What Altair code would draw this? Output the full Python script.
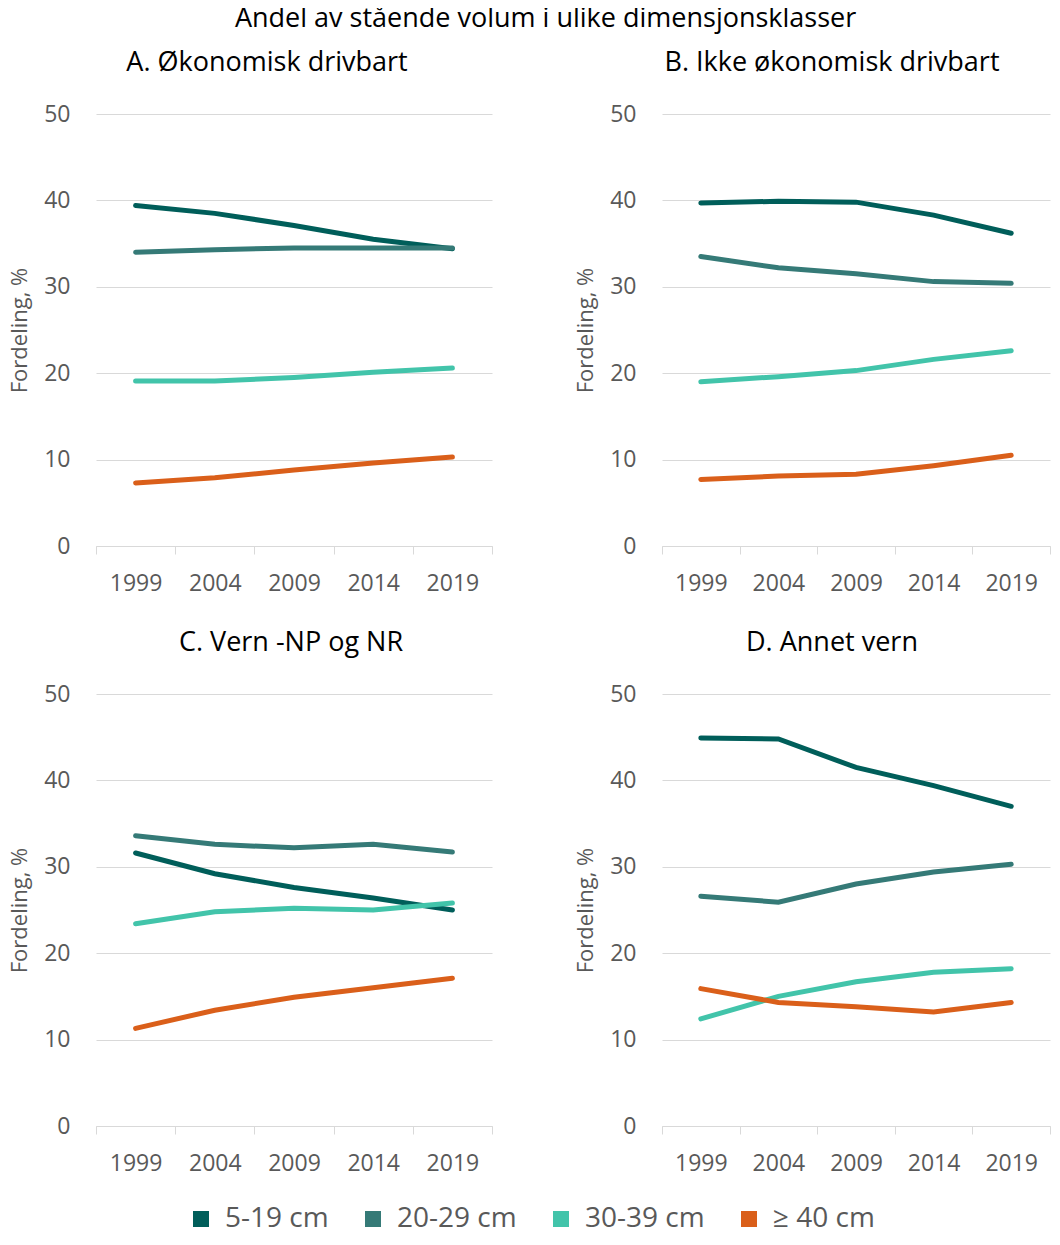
import altair as alt
import pandas as pd

years = ["1999", "2004", "2009", "2014", "2019"]
classes = ["5-19 cm", "20-29 cm", "30-39 cm", "≥ 40 cm"]
colors = ["#005E5A", "#357A77", "#42C4AA", "#DA5F1A"]
panels = ["A. Økonomisk drivbart", "B. Ikke økonomisk drivbart", "C. Vern -NP og NR", "D. Annet vern"]

A_5_19 = [39.4, 38.5, 37.1, 35.5, 34.4]
A_20_29 = [34.0, 34.3, 34.5, 34.5, 34.5]
A_30_39 = [19.1, 19.1, 19.5, 20.1, 20.6]
A_40 = [7.3, 7.9, 8.8, 9.6, 10.3]

B_5_19 = [39.7, 39.9, 39.8, 38.3, 36.2]
B_20_29 = [33.5, 32.2, 31.5, 30.6, 30.4]
B_30_39 = [19.0, 19.6, 20.3, 21.6, 22.6]
B_40 = [7.7, 8.1, 8.3, 9.3, 10.5]

C_5_19 = [31.6, 29.2, 27.6, 26.4, 25.0]
C_20_29 = [33.6, 32.6, 32.2, 32.6, 31.7]
C_30_39 = [23.4, 24.8, 25.2, 25.0, 25.8]
C_40 = [11.3, 13.4, 14.9, 16.0, 17.1]

D_5_19 = [44.9, 44.8, 41.5, 39.4, 37.0]
D_20_29 = [26.6, 25.9, 28.0, 29.4, 30.3]
D_30_39 = [12.4, 15.0, 16.7, 17.8, 18.2]
D_40 = [15.9, 14.3, 13.8, 13.2, 14.3]

series = {
    panels[0]: [A_5_19, A_20_29, A_30_39, A_40],
    panels[1]: [B_5_19, B_20_29, B_30_39, B_40],
    panels[2]: [C_5_19, C_20_29, C_30_39, C_40],
    panels[3]: [D_5_19, D_20_29, D_30_39, D_40],
}

rows = []
for p, vals in series.items():
    for cls, v in zip(classes, vals):
        for y, val in zip(years, v):
            rows.append({"panel": p, "klasse": cls, "year": y, "value": val})
df = pd.DataFrame(rows)

FONT = "Open Sans"
GRID = "#D9D9D9"
TXT = "#595959"

title_dx = [-27, -24, -3, -24]
panel_w = [396, 388, 396, 388]


def panel_chart(i):
    p = panels[i]
    return (
        alt.Chart(df[df["panel"] == p])
        .mark_line(strokeWidth=5, strokeCap="round")
        .encode(
            x=alt.X(
                "year:N",
                sort=years,
                scale=alt.Scale(paddingInner=0, paddingOuter=0),
                axis=alt.Axis(
                    title=None,
                    labelAngle=0,
                    tickBand="extent",
                    grid=False,
                    domainColor=GRID,
                    tickColor=GRID,
                    tickSize=8,
                    labelFontSize=23,
                    labelColor=TXT,
                    labelPadding=18,
                    labelFont=FONT,
                ),
            ),
            y=alt.Y(
                "value:Q",
                scale=alt.Scale(domain=[0, 50], nice=False),
                axis=alt.Axis(
                    title="Fordeling, %",
                    values=[0, 10, 20, 30, 40, 50],
                    domain=False,
                    ticks=False,
                    gridColor=GRID,
                    labelFontSize=23,
                    labelColor=TXT,
                    labelPadding=26,
                    labelFont=FONT,
                    titleFont=FONT,
                    titleFontSize=22,
                    titleFontWeight="normal",
                    titleColor=TXT,
                    titlePadding=12,
                ),
            ),
            color=alt.Color(
                "klasse:N",
                scale=alt.Scale(domain=classes, range=colors),
                legend=alt.Legend(
                    title=None,
                    orient="none",
                    direction="horizontal",
                    legendX=91,
                    legendY=1091,
                    padding=0,
                    symbolType="square",
                    symbolSize=64,
                    symbolStrokeWidth=8,
                    labelFontSize=28,
                    labelColor=TXT,
                    labelFont=FONT,
                    labelOffset=10,
                    columnPadding=24,
                ),
            ),
        )
        .properties(
            width=panel_w[i],
            height=432,
            title=alt.TitleParams(
                p,
                fontSize=27,
                font=FONT,
                fontWeight="normal",
                color="#000000",
                anchor="middle",
                dx=title_dx[i],
                offset=26,
            ),
        )
    )


top = alt.hconcat(panel_chart(0), panel_chart(1), spacing=81).resolve_scale(color="shared")
bottom = alt.hconcat(panel_chart(2), panel_chart(3), spacing=81).resolve_scale(color="shared")

chart = (
    alt.vconcat(top, bottom, spacing=34)
    .resolve_scale(color="shared")
    .properties(
        title=alt.TitleParams(
            "Andel av stående volum i ulike dimensjonsklasser",
            fontSize=27,
            font=FONT,
            fontWeight="normal",
            color="#000000",
            anchor="middle",
            dx=16,
            offset=16,
        ),
        padding={"left": 0, "top": -3, "right": 0, "bottom": 0},
    )
    .configure(font=FONT)
    .configure_view(strokeWidth=0)
)

chart.save("out.html", embed_options={"renderer": "svg", "actions": False})
